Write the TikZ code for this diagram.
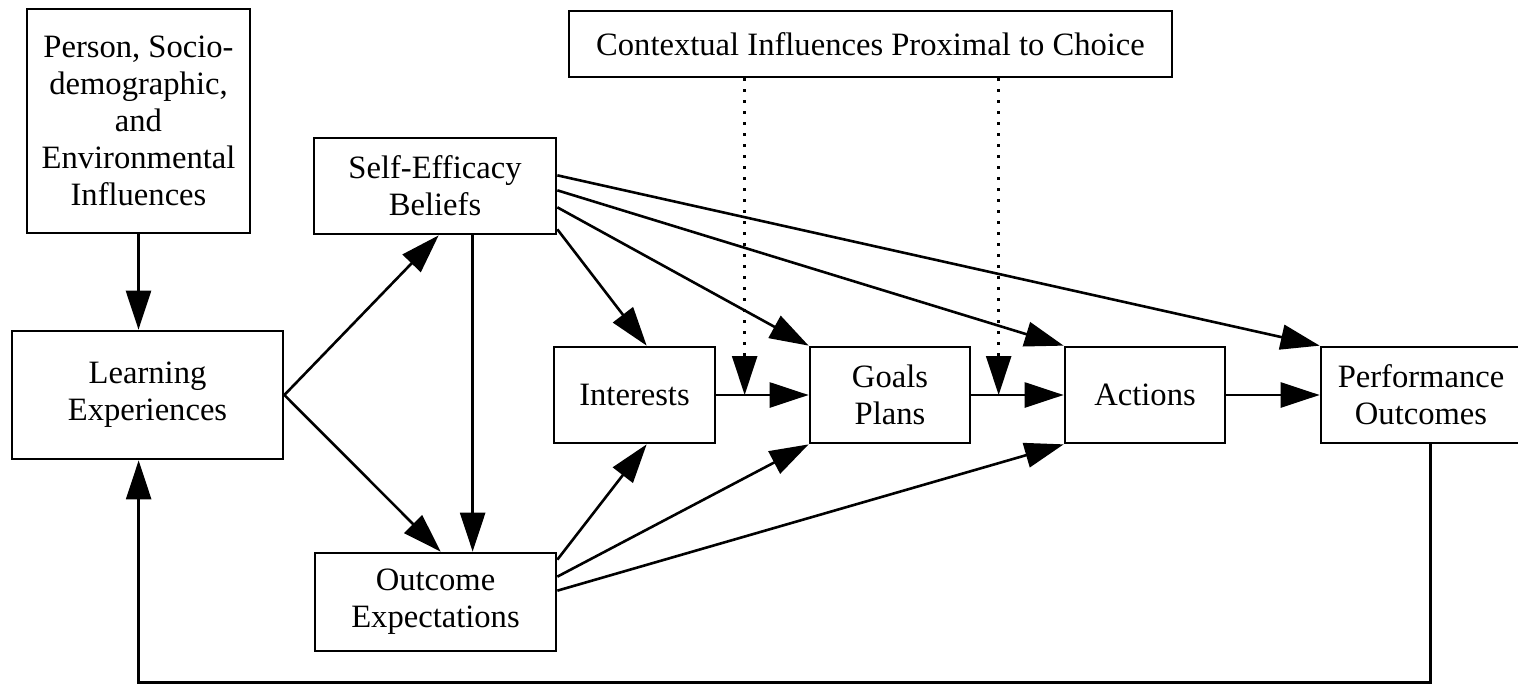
\documentclass[tikz,border=0pt]{standalone}
\usepackage{fontspec}
\setmainfont{Liberation Serif}
\usetikzlibrary{arrows.meta,calc}
\begin{document}
\begin{tikzpicture}[x=0.5pt,y=-0.5pt,
  box/.style={draw,line width=1.35pt,rectangle,inner sep=0pt,align=center,
    font=\fontsize{16.3}{18.5}\selectfont},
  link/.style={line width=1.3pt,-{Triangle[length=19.5pt,width=12.5pt]}},
  hint/.style={link,dash pattern=on 1.3pt off 4.2pt},
  plain/.style={line width=1.3pt}]
\useasboundingbox (0,0) rectangle (1518,684);

% boxes
\node[box,minimum width=111.5pt,minimum height=112pt] (person) at (138.5,121)
  {Person, Socio-\\demographic,\\and\\Environmental\\Influences};
\node[box,minimum width=135.5pt,minimum height=64pt] (le) at (147.5,395)
  {Learning\\Experiences};
\node[box,minimum width=121pt,minimum height=48pt] (se) at (435,186)
  {Self-Efficacy\\Beliefs};
\node[box,minimum width=120.5pt,minimum height=49pt] (oe) at (435.5,602)
  {Outcome\\Expectations};
\node[box,minimum width=80.5pt,minimum height=48pt] (int) at (634.5,395)
  {Interests};
\node[box,minimum width=80pt,minimum height=48pt] (goals) at (890,395)
  {Goals\\Plans};
\node[box,minimum width=80pt,minimum height=48pt] (act) at (1145,395)
  {Actions};
\node[box,minimum width=100pt,minimum height=48pt] (perf) at (1421,395)
  {Performance\\Outcomes};
\node[box,minimum width=301.5pt,minimum height=33pt] (ctx) at (870.5,44)
  {Contextual Influences Proximal to Choice};

% person inputs and learning experiences
\draw[link] (person.south) -- (person.south |- le.north);
\draw[link] (le.east) -- ($(se.south west)+(126,0)$);
\draw[link] (le.east) -- ($(oe.north west)+(127,0)$);

% self-efficacy paths
\coordinate (sedown) at ($(se.south west)+(160,0)$);
\draw[link] (sedown) -- (sedown |- oe.north);
\draw[link] ($(se.south east)+(0,-6)$) -- ($(int.north west)+(94,0)$);
\draw[link] ($(se.south east)+(0,-28)$) -- (goals.north west);
\draw[link] ($(se.south east)+(0,-45)$) -- (act.north west);
\draw[link] ($(se.south east)+(0,-60)$) -- (perf.north west);

% outcome expectation paths
\draw[link] ($(oe.north east)+(0,8)$) -- ($(int.south west)+(94,0)$);
\draw[link] ($(oe.north east)+(0,25)$) -- (goals.south west);
\draw[link] ($(oe.north east)+(0,39)$) -- (act.south west);

% main chain
\draw[link] (int.east) -- (goals.west);
\draw[link] (goals.east) -- (act.west);
\draw[link] (act.east) -- (perf.west);

% contextual influences
\coordinate (ca) at ($(ctx.south west)+(177,0)$);
\coordinate (cb) at ($(ctx.south west)+(431,0)$);
\draw[hint] (ca) -- (ca |- int.east);
\draw[hint] (cb) -- (cb |- goals.east);

% feedback loop
\coordinate (fb) at ($(perf.south west)+(111,0)$);
\draw[link] (fb) -- ($(fb)+(0,238)$) -| ($(le.south west)+(128,0)$);
\end{tikzpicture}
\end{document}
